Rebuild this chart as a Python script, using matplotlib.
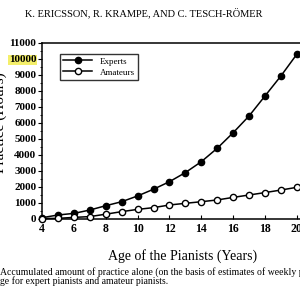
import matplotlib
import matplotlib.pyplot as plt
from matplotlib.ticker import MultipleLocator

matplotlib.use('agg')

plt.rcParams['font.family'] = ['Liberation Serif', 'DejaVu Serif']

ages = [4, 5, 6, 7, 8, 9, 10, 11, 12, 13, 14, 15, 16, 17, 18, 19, 20]
experts = [80, 250, 350, 560, 830, 1080, 1440, 1860, 2330, 2900, 3580, 4420,
           5390, 6440, 7690, 8940, 10300]
amateurs = [30, 40, 100, 150, 300, 460, 600, 710, 875, 980, 1080, 1190,
            1350, 1500, 1650, 1810, 1980]
x_ticks = [4, 6, 8, 10, 12, 14, 16, 18, 20]
y_ticks = list(range(0, 11001, 1000))

fig = plt.figure(figsize=(3, 3), dpi=100)
# the scan is cropped on the right, so the axes run past the figure edge
ax = fig.add_axes([0.14, 0.27, 0.94, 0.587])

ax.plot(ages, experts, color='black', lw=1.1, marker='o', ms=4.5,
        mfc='black', mec='black', label='Experts', clip_on=False, zorder=3)
ax.plot(ages, amateurs, color='black', lw=1.1, marker='o', ms=4.5,
        mfc='white', mec='black', mew=1.0, label='Amateurs', clip_on=False, zorder=3)

ax.set_xlim(4, 21.7)
ax.set_ylim(0, 11000)
ax.set_xticks(x_ticks)
ax.set_yticks(y_ticks)
ax.yaxis.set_minor_locator(MultipleLocator(500))
ax.xaxis.set_minor_locator(MultipleLocator(1))
ax.tick_params(axis='y', which='both', direction='out', labelsize=8, pad=1)
ax.tick_params(axis='y', which='major', length=3)
ax.tick_params(axis='y', which='minor', length=1.5)
ax.tick_params(axis='x', which='both', direction='in', labelsize=8.5, pad=3)
ax.tick_params(axis='x', which='major', length=3)
ax.tick_params(axis='x', which='minor', length=0)
for lbl in ax.get_xticklabels():
    lbl.set_fontweight('bold')
for lbl in ax.get_yticklabels():
    lbl.set_fontweight('bold')
    if lbl.get_text() == '10000':
        lbl.set_bbox(dict(facecolor='#f4ef6a', edgecolor='none', pad=0.5))

for s in ax.spines.values():
    s.set_linewidth(1.1)

leg = ax.legend(loc='upper left', bbox_to_anchor=(0.047, 0.965), fontsize=6.5,
                frameon=True, fancybox=False, edgecolor='black', handlelength=3.2,
                borderpad=0.4, labelspacing=0.3, handletextpad=0.8)
leg.get_frame().set_linewidth(1.0)

ax.set_xlabel('Age of the Pianists (Years)', fontsize=10, labelpad=10)
fig.text(-0.02, 0.59, 'Practice (Hours)', rotation=90, fontsize=11,
         ha='left', va='center')

fig.text(0.48, 0.955, 'K. ERICSSON, R. KRAMPE, AND C. TESCH-RÖMER',
         fontsize=7.5, ha='center', va='center')
fig.text(0.0, 0.093, 'Accumulated amount of practice alone (on the basis of estimates of weekly practice',
         fontsize=7, ha='left', va='center')
fig.text(0.0, 0.063, 'ge for expert pianists and amateur pianists.',
         fontsize=7, ha='left', va='center')

fig.savefig('out.png', dpi=100)
